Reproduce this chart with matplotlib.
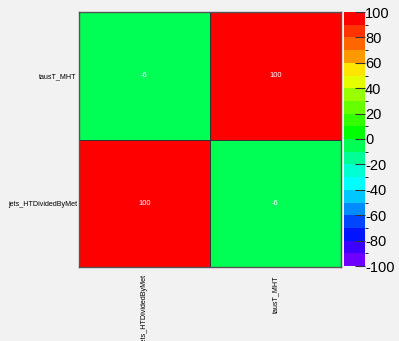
"""
相関行列を ROOT 風に表示する
"""
import matplotlib
matplotlib.use("Agg")
import matplotlib.pyplot as plt
import numpy as np
from matplotlib.colors import ListedColormap, BoundaryNorm

variables = ["jets_HTDividedByMet", "tausT_MHT"]
# corr[row][col], row 0 = jets_HTDividedByMet (bottom)
corr = np.array([[100, -6],
                 [-6, 100]])

levels = np.arange(-100, 101, 10)
palette = ["#6e00ff", "#3c00ff", "#0014ff", "#0046ff", "#008cff",
           "#00c8ff", "#00ffff", "#00ffd2", "#00ff96", "#00ff55",
           "#00ff00", "#33ff00", "#66ff00", "#99ff00", "#e6ff00",
           "#ffe600", "#ff9900", "#ff6600", "#ff3300", "#ff0000"]

plt.rcParams["font.family"] = ["Liberation Sans", "DejaVu Sans"]
plt.rcParams["axes.unicode_minus"] = False
bg = "#f2f2f2"

fig = plt.figure(figsize=(3.99, 3.41), dpi=100, facecolor=bg)
ax = fig.add_axes([79 / 399, 74 / 341, 262 / 399, 255 / 341])
cax = fig.add_axes([344 / 399, 75 / 341, 21 / 399, 254 / 341])

cmap = ListedColormap(palette)
norm = BoundaryNorm(levels, cmap.N)
n = len(variables)
mesh = ax.pcolormesh(np.arange(n + 1), np.arange(n + 1), corr,
                     cmap=cmap, norm=norm, edgecolor="#333333", linewidth=0.6)

for i in range(n):
    for j in range(n):
        ax.text(j + 0.5, i + 0.5, f"{corr[i, j]:d}", ha="center", va="center",
                color="white", fontsize=5.5)

ax.set_xlim(0, n)
ax.set_ylim(0, n)
ax.set_xticks(np.arange(n) + 0.5)
ax.set_xticklabels(variables, rotation=90, fontsize=5.1, va="top")
ax.set_yticks(np.arange(n) + 0.5)
ax.set_yticklabels(variables, fontsize=5.1)
ax.tick_params(axis="y", length=0, pad=1.5)
ax.tick_params(axis="x", length=0, pad=6)
for sp in ax.spines.values():
    sp.set_color("#555555")
    sp.set_linewidth(1.0)

cb = fig.colorbar(mesh, cax=cax, ticks=np.arange(-100, 101, 20))
cb.outline.set_visible(False)
cax.tick_params(labelsize=10.5, direction="in", length=7, width=0.8,
                color="#333333", pad=0)
cax.set_yticklabels([str(v) for v in range(-100, 101, 20)])

fig.savefig("out.png", dpi=100, facecolor=bg)
